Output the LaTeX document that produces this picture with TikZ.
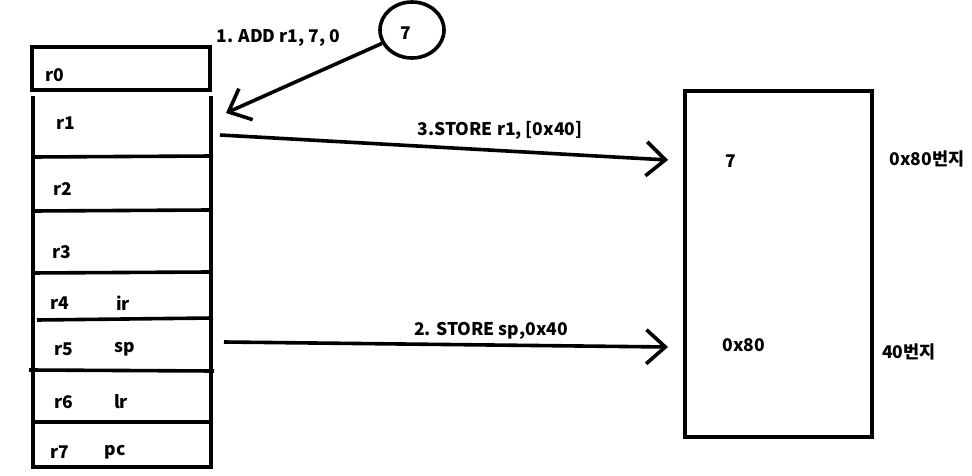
\documentclass[tikz,border=0pt]{standalone}
\usepackage{fontspec}
\setmainfont{Noto Sans CJK KR}
\usetikzlibrary{arrows.meta,shapes.geometric}

\tikzset{
  thickline/.style={line width=3.6pt},
  regtext/.style={font=\bfseries\fontsize{17.5}{20}\selectfont},
  barb/.style={thickline, -{Straight Barb[length=19pt,width=34pt]}}
}

\begin{document}
\begin{tikzpicture}[x=1pt, y=-1pt, regtext]
    \useasboundingbox (0,0) rectangle (972,476);

    % registers
    \draw[thickline] (32,47) rectangle (210,90);
    \draw[thickline] (33,96) -- (33,467) -- (211,467) -- (211,96);
    \draw[thickline] (33,157) -- (213,156);
    \draw[thickline] (33,211) -- (210,210);
    \draw[thickline] (31,273) -- (210,272);
    \draw[thickline] (37,320) -- (213,318);
    \draw[thickline] (29,370) -- (214,371);
    \draw[thickline] (33,422) -- (210,422);

    \node (r0) at (55,75) {r0};
    \node (r1) at (66,123) {r1};
    \node (r2) at (63,189) {r2};
    \node (r3) at (62,252) {r3};
    \node (r4) at (60,303) {r4};
    \node (ir) at (123,303) {ir};
    \node (r5) at (64,349) {r5};
    \node (sp) at (125,349) {sp};
    \node (r6) at (64,402) {r6};
    \node (lr) at (121,402) {lr};
    \node (r7) at (60,452) {r7};
    \node (pc) at (115,452) {pc};

    % value 7
    \node[draw, thickline, ellipse, minimum width=64, minimum height=56] (seven) at (412,30) {};
    \node (sevenval) at (406,33) {7};

    % memory
    \node[draw, thickline, minimum width=187, minimum height=346, inner sep=0pt] (mem) at (778.5,264) {};
    \node (memseven) at (731,161) {7};
    \node (memaddr) at (744,345) {0x80};
    \node (addrhi) at (927,159) {0x80번지};
    \node (addrlo) at (909,352) {40번지};

    \coordinate (r1in) at (226,113);
    \coordinate (r1out) at (220,135);
    \coordinate (r5out) at (224,342);
    \coordinate (memhi) at (668,160);
    \coordinate (memlo) at (668,347);

    \draw[barb] (seven) -- (r1in);
    \draw[barb] (r1out) -- (memhi);
    \draw[barb] (r5out) -- (memlo);

    \node[anchor=west] (add) at (213,38) {1. ADD r1, 7, 0};
    \node (storehi) at (500,130) {3.STORE r1, [0x40]};
    \node (storelo) at (491,331) {2. STORE sp,0x40};
\end{tikzpicture}
\end{document}
